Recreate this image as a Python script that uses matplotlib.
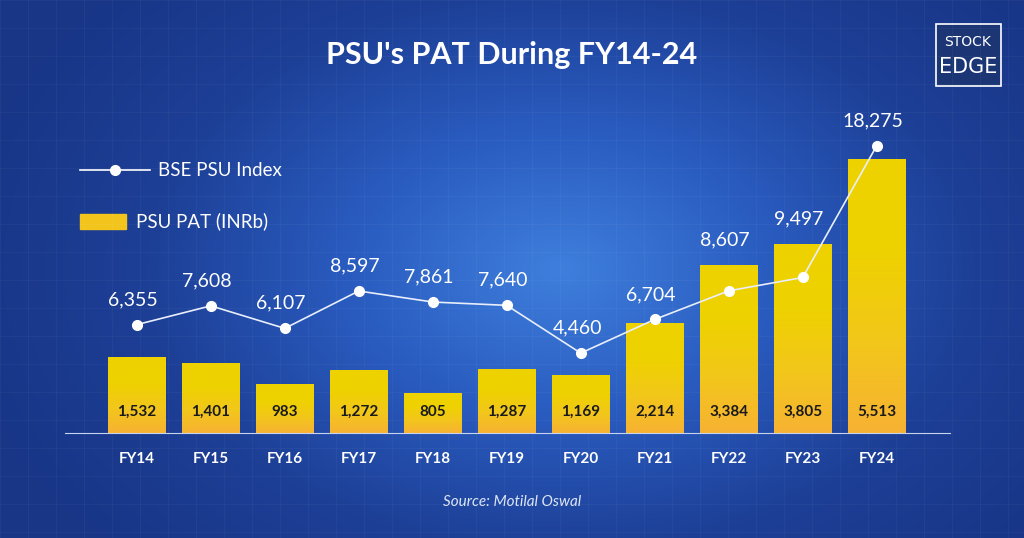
import numpy as np
import matplotlib.pyplot as plt
from matplotlib.patches import Rectangle
from matplotlib.colors import LinearSegmentedColormap

years = ["FY14", "FY15", "FY16", "FY17", "FY18", "FY19", "FY20", "FY21", "FY22", "FY23", "FY24"]
pat = [1532, 1401, 983, 1272, 805, 1287, 1169, 2214, 3384, 3805, 5513]
psu_index = [6355, 7608, 6107, 8597, 7861, 7640, 4460, 6704, 8607, 9497, 18275]

FONT = "Lato"
BAR_MAX = 6700
IDX_MIN, IDX_MAX = -860, 21315

fig = plt.figure(figsize=(10.24, 5.38), dpi=100)

# background: radial blue gradient with faint grid
bg = fig.add_axes([0, 0, 1, 1])
yy, xx = np.mgrid[0:538, 0:1024]
r = np.sqrt(((xx - 560) / 620.0) ** 2 + ((yy - 270) / 420.0) ** 2)
cmap_bg = LinearSegmentedColormap.from_list("bg", ["#3f7fdc", "#2a5cc0", "#1d3f96", "#183586"])
bg.imshow(np.clip(r, 0, 1), cmap=cmap_bg, extent=(0, 1024, 538, 0), aspect="auto")
for gx in np.arange(0, 1024, 28):
    bg.axvline(gx, color="white", alpha=0.035, lw=0.8)
for gy in np.arange(0, 538, 28):
    bg.axhline(gy, color="white", alpha=0.035, lw=0.8)

bg.text(512, 55, "PSU's PAT During FY14-24", color="white", fontsize=22,
        fontweight="bold", family=FONT, ha="center", va="center")
bg.text(512, 502, "Source: Motilal Oswal", color="#dde6f5", fontsize=11,
        style="italic", family=FONT, ha="center", va="center")
# logo
bg.add_patch(Rectangle((936, 24), 65, 62, fill=True, fc="#1c3575", ec="white", lw=1.2))
bg.text(968, 42, "STOCK", color="white", fontsize=10, family="DejaVu Sans", ha="center", va="center")
bg.text(968, 67, "EDGE", color="white", fontsize=15, family="DejaVu Sans", ha="center", va="center")

# legend
bg.plot([80, 150], [170, 170], color="white", lw=1.2)
bg.plot([115], [170], "o", color="white", ms=7)
bg.text(158, 170, "BSE PSU Index", color="white", fontsize=13.5, family=FONT, va="center")
bg.add_patch(Rectangle((80, 214), 46, 15, color="#f2c41c"))
bg.text(136, 221, "PSU PAT (INRb)", color="white", fontsize=13.5, family=FONT, va="center")
bg.set_xlim(0, 1024); bg.set_ylim(538, 0); bg.axis("off")

x = np.arange(len(years))
ax = fig.add_axes([65 / 1024, 1 - 433 / 538, 885 / 1024, 333 / 538])
ax.patch.set_alpha(0)
for s in ["top", "right", "left"]:
    ax.spines[s].set_visible(False)
ax.spines["bottom"].set_color("#c8d4ee")
ax.set_yticks([])
ax.set_xticks(x)
ax.set_xticklabels(years, color="white", fontsize=11, family=FONT, fontweight="bold")
ax.tick_params(axis="x", length=0, pad=14)

bars = ax.bar(x, pat, width=0.78, color="none")
grad = np.linspace(0, 1, 256).reshape(-1, 1)
cmap_bar = LinearSegmentedColormap.from_list("bar", ["#f7b233", "#f2c71a", "#eed200", "#eed200"])
for b, v in zip(bars, pat):
    im = ax.imshow(grad, cmap=cmap_bar, aspect="auto", origin="lower",
                   extent=(b.get_x(), b.get_x() + b.get_width(), 0, v), zorder=2)
    im.set_clip_path(b)
    ax.text(b.get_x() + b.get_width() / 2, 420, f"{v:,}", ha="center", va="center",
            fontsize=11, color="#1a1a1a", family=FONT, fontweight="bold", zorder=3)
ax.set_xlim(-0.97, 10.99)
ax.set_ylim(0, BAR_MAX)

ax2 = ax.twinx()
ax2.set_ylim(IDX_MIN, IDX_MAX)
ax2.axis("off")
ax2.plot(x, psu_index, color="#e8eefb", lw=1.2, marker="o", ms=7,
         mfc="white", mec="white", zorder=4)
for xi, v, p in zip(x, psu_index, pat):
    # keep the label clear of the bar top
    bar_top = IDX_MIN + p / BAR_MAX * (IDX_MAX - IDX_MIN)
    ax2.text(xi - 0.05, max(v, bar_top) + 1100, f"{v:,}", ha="center", va="bottom",
             fontsize=14, color="white", family=FONT)

fig.savefig("out.png", dpi=100)
